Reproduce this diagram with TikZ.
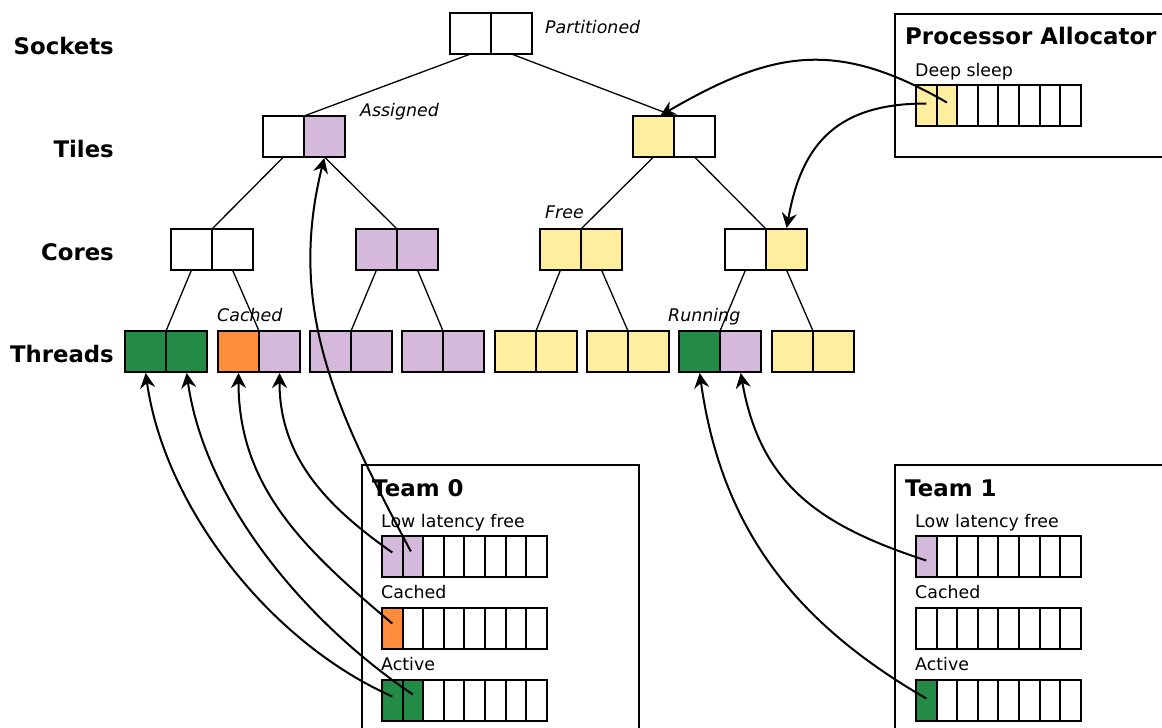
\documentclass[tikz,border=0pt]{standalone}
\usepackage{fontspec}
\setmainfont{DejaVu Sans}
\usetikzlibrary{arrows.meta,calc}

\definecolor{busy}{HTML}{238B45}
\definecolor{warm}{HTML}{FD8D3C}
\definecolor{lilac}{HTML}{D4B9DA}
\definecolor{idle}{HTML}{FFEDA0}

% two square cells side by side: name, left x, centre y, left fill, right fill
\newcommand\pairnode[5]{%
  \node[cell,fill=#4] (#1L) at (#2+20.5,#3) {};
  \node[cell,fill=#5] (#1R) at (#2+61.5,#3) {};
}
% a row of eight narrow slots: name, left x, centre y, filled count, fill
\newcommand\slotrow[5]{%
  \foreach \i in {1,...,8} {%
    \ifnum\i>#4 \def\slotfill{white}\else\def\slotfill{#5}\fi
    \node[slot,fill=\slotfill] (#1\i) at ({#2+10.3+20.6*(\i-1)},#3) {};
  }%
}

\begin{document}
\begin{tikzpicture}[x=1pt,y=1pt,
  cell/.style={draw=black,line width=2pt,minimum width=41pt,minimum height=41pt,inner sep=0pt,outer sep=0pt},
  slot/.style={draw=black,line width=2pt,minimum width=20.6pt,minimum height=41pt,inner sep=0pt,outer sep=0pt},
  branch/.style={line width=1.3pt},
  link/.style={line width=2pt,shorten >=1pt,-{Stealth[length=15pt,width=15pt,inset=5pt]}},
  level/.style={font=\fontsize{22.8}{27}\selectfont\bfseries,anchor=base east,inner sep=0pt},
  state/.style={font=\fontsize{17.4}{20}\selectfont\itshape,anchor=base west,inner sep=0pt},
  title/.style={font=\fontsize{22.9}{27}\selectfont\bfseries,anchor=base west,inner sep=0pt},
  caption/.style={font=\fontsize{17.4}{20}\selectfont,anchor=base west,inner sep=0pt},
  panel/.style={draw=black,line width=2pt}
]
\useasboundingbox (0,0) rectangle (1162,-728);

% level names
\node[level] (lvsock) at (114,-54.5) {Sockets};
\node[level] (lvtile) at (114,-157) {Tiles};
\node[level] (lvcore) at (114,-260) {Cores};
\node[level] (lvthr)  at (114,-362.5) {Threads};

% panels
\draw[panel] (1175,-13.5) -- (895,-13.5) -- (895,-156.5) -- (1175,-156.5);
\draw[panel] (361.5,-740) -- (361.5,-464.5) -- (638.5,-464.5) -- (638.5,-740);
\draw[panel] (894.5,-740) -- (894.5,-464.5) -- (1175,-464.5);

% hierarchy
\pairnode{sock}{450}{-33.5}{white}{white}
\pairnode{tileA}{263}{-136.5}{white}{lilac}
\pairnode{tileB}{633}{-136.5}{idle}{white}
\pairnode{coreA}{171}{-249.5}{white}{white}
\pairnode{coreB}{356}{-249.5}{lilac}{lilac}
\pairnode{coreC}{540}{-249.5}{idle}{idle}
\pairnode{coreD}{725}{-249.5}{white}{idle}
\pairnode{thrA}{125}{-351.5}{busy}{busy}
\pairnode{thrB}{218}{-351.5}{warm}{lilac}
\pairnode{thrC}{310}{-351.5}{lilac}{lilac}
\pairnode{thrD}{402}{-351.5}{lilac}{lilac}
\pairnode{thrE}{495}{-351.5}{idle}{idle}
\pairnode{thrF}{587}{-351.5}{idle}{idle}
\pairnode{thrG}{679}{-351.5}{busy}{lilac}
\pairnode{thrH}{772}{-351.5}{idle}{idle}

\draw[branch] (sockL.south) -- (tileAL.north east);
\draw[branch] (sockR.south) -- (tileBL.north east);
\draw[branch] (tileAL.south) -- (coreAL.north east);
\draw[branch] (tileAR.south) -- (coreBL.north east);
\draw[branch] (tileBL.south) -- (coreCL.north east);
\draw[branch] (tileBR.south) -- (coreDL.north east);
\draw[branch] (coreAL.south) -- (thrAL.north east);
\draw[branch] (coreAR.south) -- (thrBL.north east);
\draw[branch] (coreBL.south) -- (thrCL.north east);
\draw[branch] (coreBR.south) -- (thrDL.north east);
\draw[branch] (coreCL.south) -- (thrEL.north east);
\draw[branch] (coreCR.south) -- (thrFL.north east);
\draw[branch] (coreDL.south) -- (thrGL.north east);
\draw[branch] (coreDR.south) -- (thrHL.north east);

% state names
\node[state] (stpart) at (545,-34) {Partitioned};
\node[state] (stasg)  at (360,-116.5) {Assigned};
\node[state] (stfree) at (545,-218) {Free};
\node[state] (stcach) at (217,-321.5) {Cached};
\node[state] (strun)  at (668,-321.5) {Running};

% processor allocator
\node[title] (patitle) at (905,-44.5) {Processor Allocator};
\node[caption] (pacap) at (915,-76) {Deep sleep};
\slotrow{pa}{916}{-105.5}{2}{idle}

% team 0
\node[title] (zt) at (372,-496) {Team 0};
\node[caption] (zcl) at (381,-527) {Low latency free};
\node[caption] (zcc) at (381,-598) {Cached};
\node[caption] (zca) at (381,-670) {Active};
\slotrow{zl}{382}{-556.5}{2}{lilac}
\slotrow{zc}{382}{-628.5}{1}{warm}
\slotrow{za}{382}{-700.5}{2}{busy}

% team 1
\node[title] (ot) at (905,-496) {Team 1};
\node[caption] (ocl) at (915,-527) {Low latency free};
\node[caption] (occ) at (915,-598) {Cached};
\node[caption] (oca) at (915,-670) {Active};
\slotrow{ol}{916}{-556.5}{1}{lilac}
\slotrow{oc}{916}{-628.5}{0}{white}
\slotrow{oa}{916}{-700.5}{1}{busy}

% hand-offs
\draw[link] ([yshift=3pt]pa2.center) to[out=150,in=30,looseness=1.15] ([xshift=6pt]tileBL.north);
\draw[link] ([yshift=2pt]pa1.center) to[out=180,in=80,looseness=1.2] (coreDR.north);
\draw[link] ([shift={(-2pt,5pt)}]zl2.center) to[out=118,in=-104] (tileAR.south);
\draw[link] ([yshift=4pt]zl1.center) to[out=145,in=-90] (thrBR.south);
\draw[link] ([yshift=5pt]zc1.center) to[out=140,in=-90] (thrBL.south);
\draw[link] ([yshift=4pt]za1.center) to[out=156,in=-82,looseness=0.85] (thrAL.south);
\draw[link] ([yshift=6pt]za2.center) to[out=146,in=-82,looseness=0.85] (thrAR.south);
\draw[link] ([yshift=-4pt]ol1.center) to[out=162,in=-80,looseness=1.1] (thrGR.south);
\draw[link] ([yshift=2pt]oa1.center) to[out=150,in=-82] (thrGL.south);
\end{tikzpicture}
\end{document}
